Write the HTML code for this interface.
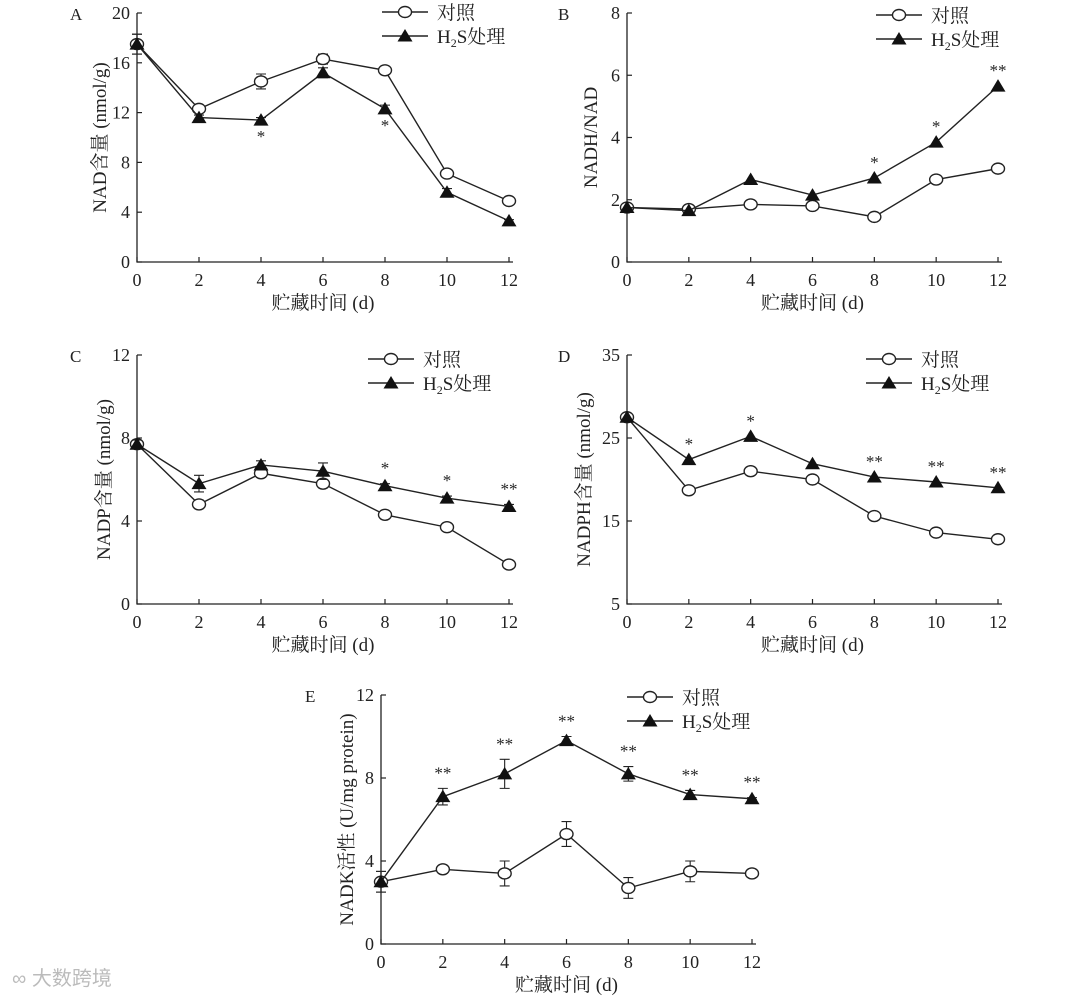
<!DOCTYPE html>
<html><head><meta charset="utf-8">
<style>
body{margin:0;background:#fff;}
svg{display:block;font-family:"Liberation Serif","Noto Serif CJK SC",serif;}
</style></head>
<body>
<svg id="fig" width="1080" height="997" viewBox="0 0 1080 997" xmlns="http://www.w3.org/2000/svg"></svg>
<script>
const days = [0,2,4,6,8,10,12];
const xTicks = ["0","2","4","6","8","10","12"];
const aCtrl = [17.5,12.3,14.5,16.3,15.4,7.1,4.9];
const aH2S  = [17.5,11.6,11.4,15.2,12.3,5.6,3.3];
const aCtrlErr = [0.8,0.3,0.6,0.4,0.2,0.2,0.1];
const aH2SErr  = [0.8,0.2,0.2,0.4,0.3,0.3,0.1];
const aStars = ["","","*","","*","",""];
const aYTicks = [0,4,8,12,16,20];
const bCtrl = [1.75,1.7,1.85,1.8,1.45,2.65,3.0];
const bH2S  = [1.75,1.65,2.65,2.15,2.7,3.85,5.65];
const bStars = ["","","","","*","*","**"];
const bYTicks = [0,2,4,6,8];
const cCtrl = [7.7,4.8,6.3,5.8,4.3,3.7,1.9];
const cH2S  = [7.7,5.8,6.7,6.4,5.7,5.1,4.7];
const cCtrlErr = [0.2,0.2,0.2,0.2,0.1,0.1,0.1];
const cH2SErr  = [0.2,0.4,0.2,0.4,0.1,0.1,0.1];
const cStars = ["","","","","*","*","**"];
const cYTicks = [0,4,8,12];
const dCtrl = [27.5,18.7,21.0,20.0,15.6,13.6,12.8];
const dH2S  = [27.5,22.4,25.2,21.9,20.3,19.7,19.0];
const dStars = ["","*","*","","**","**","**"];
const dYTicks = [5,15,25,35];
const eCtrl = [3.0,3.6,3.4,5.3,2.7,3.5,3.4];
const eH2S  = [3.0,7.1,8.2,9.8,8.2,7.2,7.0];
const eCtrlErr = [0.5,0.1,0.6,0.6,0.5,0.5,0.05];
const eH2SErr  = [0.5,0.4,0.7,0.2,0.35,0.2,0.05];
const eStars = ["","**","**","**","**","**","**"];
const eYTicks = [0,4,8,12];

const NS="http://www.w3.org/2000/svg";
const svg=document.getElementById('fig');
function mk(tag,attrs,parent,text){const e=document.createElementNS(NS,tag);for(const k in attrs)e.setAttribute(k,attrs[k]);if(text!==undefined)e.textContent=text;(parent||svg).appendChild(e);return e;}

function panel(cfg){
  const g=mk('g',{});
  
  
  const {x0,x1,yb,yt,ymin,ymax}=cfg;
  const sx=d=>x0+(d-0)/12*(x1-x0);
  const sy=v=>yb-(v-ymin)/(ymax-ymin)*(yb-yt);
  const ax=mk('path',{d:`M${x0},${yt} L${x0},${yb} L${x1+4},${yb}`,stroke:'#222','stroke-width':1.3,fill:'none'},g);
  
  
  days.forEach((d,i)=>{
    mk('line',{x1:sx(d),x2:sx(d),y1:yb,y2:yb-5,stroke:'#222','stroke-width':1.2},g);
    const t=mk('text',{x:sx(d),y:yb+24,'text-anchor':'middle','font-size':18,fill:'#222'},g,xTicks[i]);
    
    
  });
  cfg.yTicks.forEach(v=>{
    mk('line',{x1:x0,x2:x0+5,y1:sy(v),y2:sy(v),stroke:'#222','stroke-width':1.2},g);
    const t=mk('text',{x:x0-7,y:sy(v)+6,'text-anchor':'end','font-size':18,fill:'#222'},g,String(v));
    
    
  });
  const lt=mk('text',{x:cfg.lx,y:yt+7,'font-size':17,fill:'#222'},g,cfg.id);
  
  
  const xt=mk('text',{x:(x0+x1)/2,y:yb+47,'text-anchor':'middle','font-size':19,fill:'#222'},g,'贮藏时间 (d)');
  
  
  const ytt=mk('text',{x:0,y:0,'text-anchor':'middle','font-size':19,fill:'#222',transform:`translate(${cfg.ytx},${(yt+yb)/2}) rotate(-90)`},g,cfg.ytitle);
  
  
  function series(vals,errs,type){
    const pts=vals.map((v,i)=>[sx(days[i]),sy(v)]);
    const pl=mk('polyline',{points:pts.map(p=>p.join(',')).join(' '),fill:'none',stroke:'#222','stroke-width':1.4},g);
    
    
    if(errs) vals.forEach((v,i)=>{
      const x=sx(days[i]),a=sy(v+errs[i]),b=sy(v-errs[i]);
      mk('path',{d:`M${x},${a}L${x},${b}M${x-5},${a}L${x+5},${a}M${x-5},${b}L${x+5},${b}`,stroke:'#222','stroke-width':1.1,fill:'none'},g);
    });
    pts.forEach(p=>{
      let m;
      if(type==='control') m=mk('ellipse',{cx:p[0],cy:p[1],rx:6.5,ry:5.5,fill:'#fff',stroke:'#222','stroke-width':1.4},g);
      else m=mk('polygon',{points:`${p[0]},${p[1]-7} ${p[0]-7.5},${p[1]+5.5} ${p[0]+7.5},${p[1]+5.5}`,fill:'#111'},g);
      
      
    });
  }
  series(cfg.ctrl,cfg.ctrlErr,'control');
  series(cfg.h2s,cfg.h2sErr,'h2s');
  cfg.stars.forEach((s,i)=>{
    if(!s)return;
    const v=cfg.starBelow?cfg.h2s[i]:Math.max(cfg.h2s[i]+(cfg.h2sErr?cfg.h2sErr[i]:0),cfg.ctrl[i]);
    const y=cfg.starBelow?sy(v)+22:sy(v)-10;
    const t=mk('text',{x:sx(days[i]),y:y,'text-anchor':'middle','font-size':17,fill:'#222'},g,s);
    
    
  });
  const L=cfg.leg;
  const l1=mk('g',{},g);
  
  
  mk('line',{x1:L[0],x2:L[0]+46,y1:L[1],y2:L[1],stroke:'#222','stroke-width':1.4},l1);
  mk('ellipse',{cx:L[0]+23,cy:L[1],rx:6.5,ry:5.5,fill:'#fff',stroke:'#222','stroke-width':1.4},l1);
  mk('text',{x:L[0]+55,y:L[1]+7,'font-size':19,fill:'#222'},l1,'对照');
  const l2=mk('g',{},g);
  
  
  const y2=L[1]+24;
  mk('line',{x1:L[0],x2:L[0]+46,y1:y2,y2:y2,stroke:'#222','stroke-width':1.4},l2);
  mk('polygon',{points:`${L[0]+23},${y2-7} ${L[0]+15.5},${y2+5.5} ${L[0]+30.5},${y2+5.5}`,fill:'#111'},l2);
  const tx=mk('text',{x:L[0]+55,y:y2+7,'font-size':19,fill:'#222'},l2);
  mk('tspan',{},tx,'H');
  mk('tspan',{'font-size':12,dy:4},tx,'2');
  mk('tspan',{dy:-4},tx,'S处理');
}

panel({id:'A',x0:137,x1:509,yb:262,yt:13,ymin:0,ymax:20,yTicks:aYTicks,ctrl:aCtrl,h2s:aH2S,ctrlErr:aCtrlErr,h2sErr:aH2SErr,stars:aStars,starBelow:true,lx:70,ytx:106,ytitle:'NAD含量 (nmol/g)',leg:[382,12]});
panel({id:'B',x0:627,x1:998,yb:262,yt:13,ymin:0,ymax:8,yTicks:bYTicks,ctrl:bCtrl,h2s:bH2S,stars:bStars,lx:558,ytx:597,ytitle:'NADH/NAD',leg:[876,15]});
panel({id:'C',x0:137,x1:509,yb:604,yt:355,ymin:0,ymax:12,yTicks:cYTicks,ctrl:cCtrl,h2s:cH2S,ctrlErr:cCtrlErr,h2sErr:cH2SErr,stars:cStars,lx:70,ytx:110,ytitle:'NADP含量 (nmol/g)',leg:[368,359]});
panel({id:'D',x0:627,x1:998,yb:604,yt:355,ymin:5,ymax:35,yTicks:dYTicks,ctrl:dCtrl,h2s:dH2S,stars:dStars,lx:558,ytx:590,ytitle:'NADPH含量 (nmol/g)',leg:[866,359]});
panel({id:'E',x0:381,x1:752,yb:944,yt:695,ymin:0,ymax:12,yTicks:eYTicks,ctrl:eCtrl,h2s:eH2S,ctrlErr:eCtrlErr,h2sErr:eH2SErr,stars:eStars,lx:305,ytx:353,ytitle:'NADK活性 (U/mg protein)',leg:[627,697]});

const wm=mk('text',{x:12,y:985,'font-size':20,fill:'#bbb','font-family':'"Liberation Sans","Noto Sans CJK SC",sans-serif'},svg,'∞ 大数跨境');


</script>
</body></html>
